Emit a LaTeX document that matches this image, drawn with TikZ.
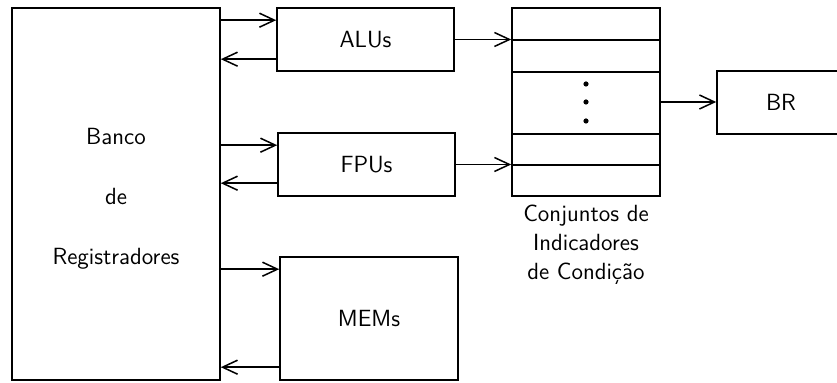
\documentclass[tikz,border=0pt]{standalone}
\usetikzlibrary{arrows.meta,calc}
\begin{document}
\begin{tikzpicture}[x=0.5pt,y=-0.5pt,
  txt/.style={font=\sffamily\fontsize{11.7}{14.5}\selectfont,align=center},
  box/.style={draw,line width=0.8pt,inner sep=0pt,txt},
  arr/.style={line width=0.75pt,-{Straight Barb[length=7.5pt,width=7pt,line width=0.75pt]}},
  lbl/.style={txt,inner sep=0pt}]
\useasboundingbox (0,0) rectangle (837,383);

% register bank
\node[box,minimum width=104pt,minimum height=186pt] (banco) at (116,194) {};
\node[lbl,font=\sffamily\fontsize{11.7}{30}\selectfont] (bancotxt) at (116,199) {Banco\\de\\Registradores};

% functional units
\node[box,minimum width=88.5pt,minimum height=31.5pt] (alu) at (365.5,39.5) {ALUs};
\node[box,minimum width=88.5pt,minimum height=31.5pt] (fpu) at (366.5,164.5) {FPUs};
\node[box,minimum width=89pt,minimum height=61.5pt] (mem) at (369,318.5) {MEMs};

% condition flag sets
\node[box,minimum width=74pt,minimum height=94pt] (cc) at (586,102) {};
\foreach \yy in {40,72,134,165}
  \draw[line width=0.8pt] (cc.west |- 0,\yy) -- (cc.east |- 0,\yy);
\foreach \yy in {84,102,121}
  \fill (586,\yy) circle (2.6);
\node[lbl,anchor=north] (cap) at ($(cc.south)+(0,8)$) {Conjuntos de\\Indicadores\\de Condição};

% branch unit
\node[box,minimum width=64pt,minimum height=31.5pt] (br) at (781,102.5) {BR};

% connection points on the unit boxes
\coordinate (a1) at ($(alu.north west)+(0,13)$);
\coordinate (a2) at ($(alu.north west)+(0,52)$);
\coordinate (f1) at ($(fpu.north west)+(0,13)$);
\coordinate (f2) at ($(fpu.north west)+(0,51)$);
\coordinate (m1) at ($(mem.north west)+(0,13)$);
\coordinate (m2) at ($(mem.north west)+(0,111)$);

\draw[arr] (banco.east |- a1) -- (a1);
\draw[arr] (a2) -- (banco.east |- a2);
\draw[arr] (banco.east |- f1) -- (f1);
\draw[arr] (f2) -- (banco.east |- f2);
\draw[arr] (banco.east |- m1) -- (m1);
\draw[arr] (m2) -- (banco.east |- m2);

\draw[arr] (alu.east) -- (alu.east -| cc.west);
\draw[arr] (fpu.east) -- (fpu.east -| cc.west);
\draw[arr] (cc.east) -- (cc.east -| br.west);
\end{tikzpicture}
\end{document}
